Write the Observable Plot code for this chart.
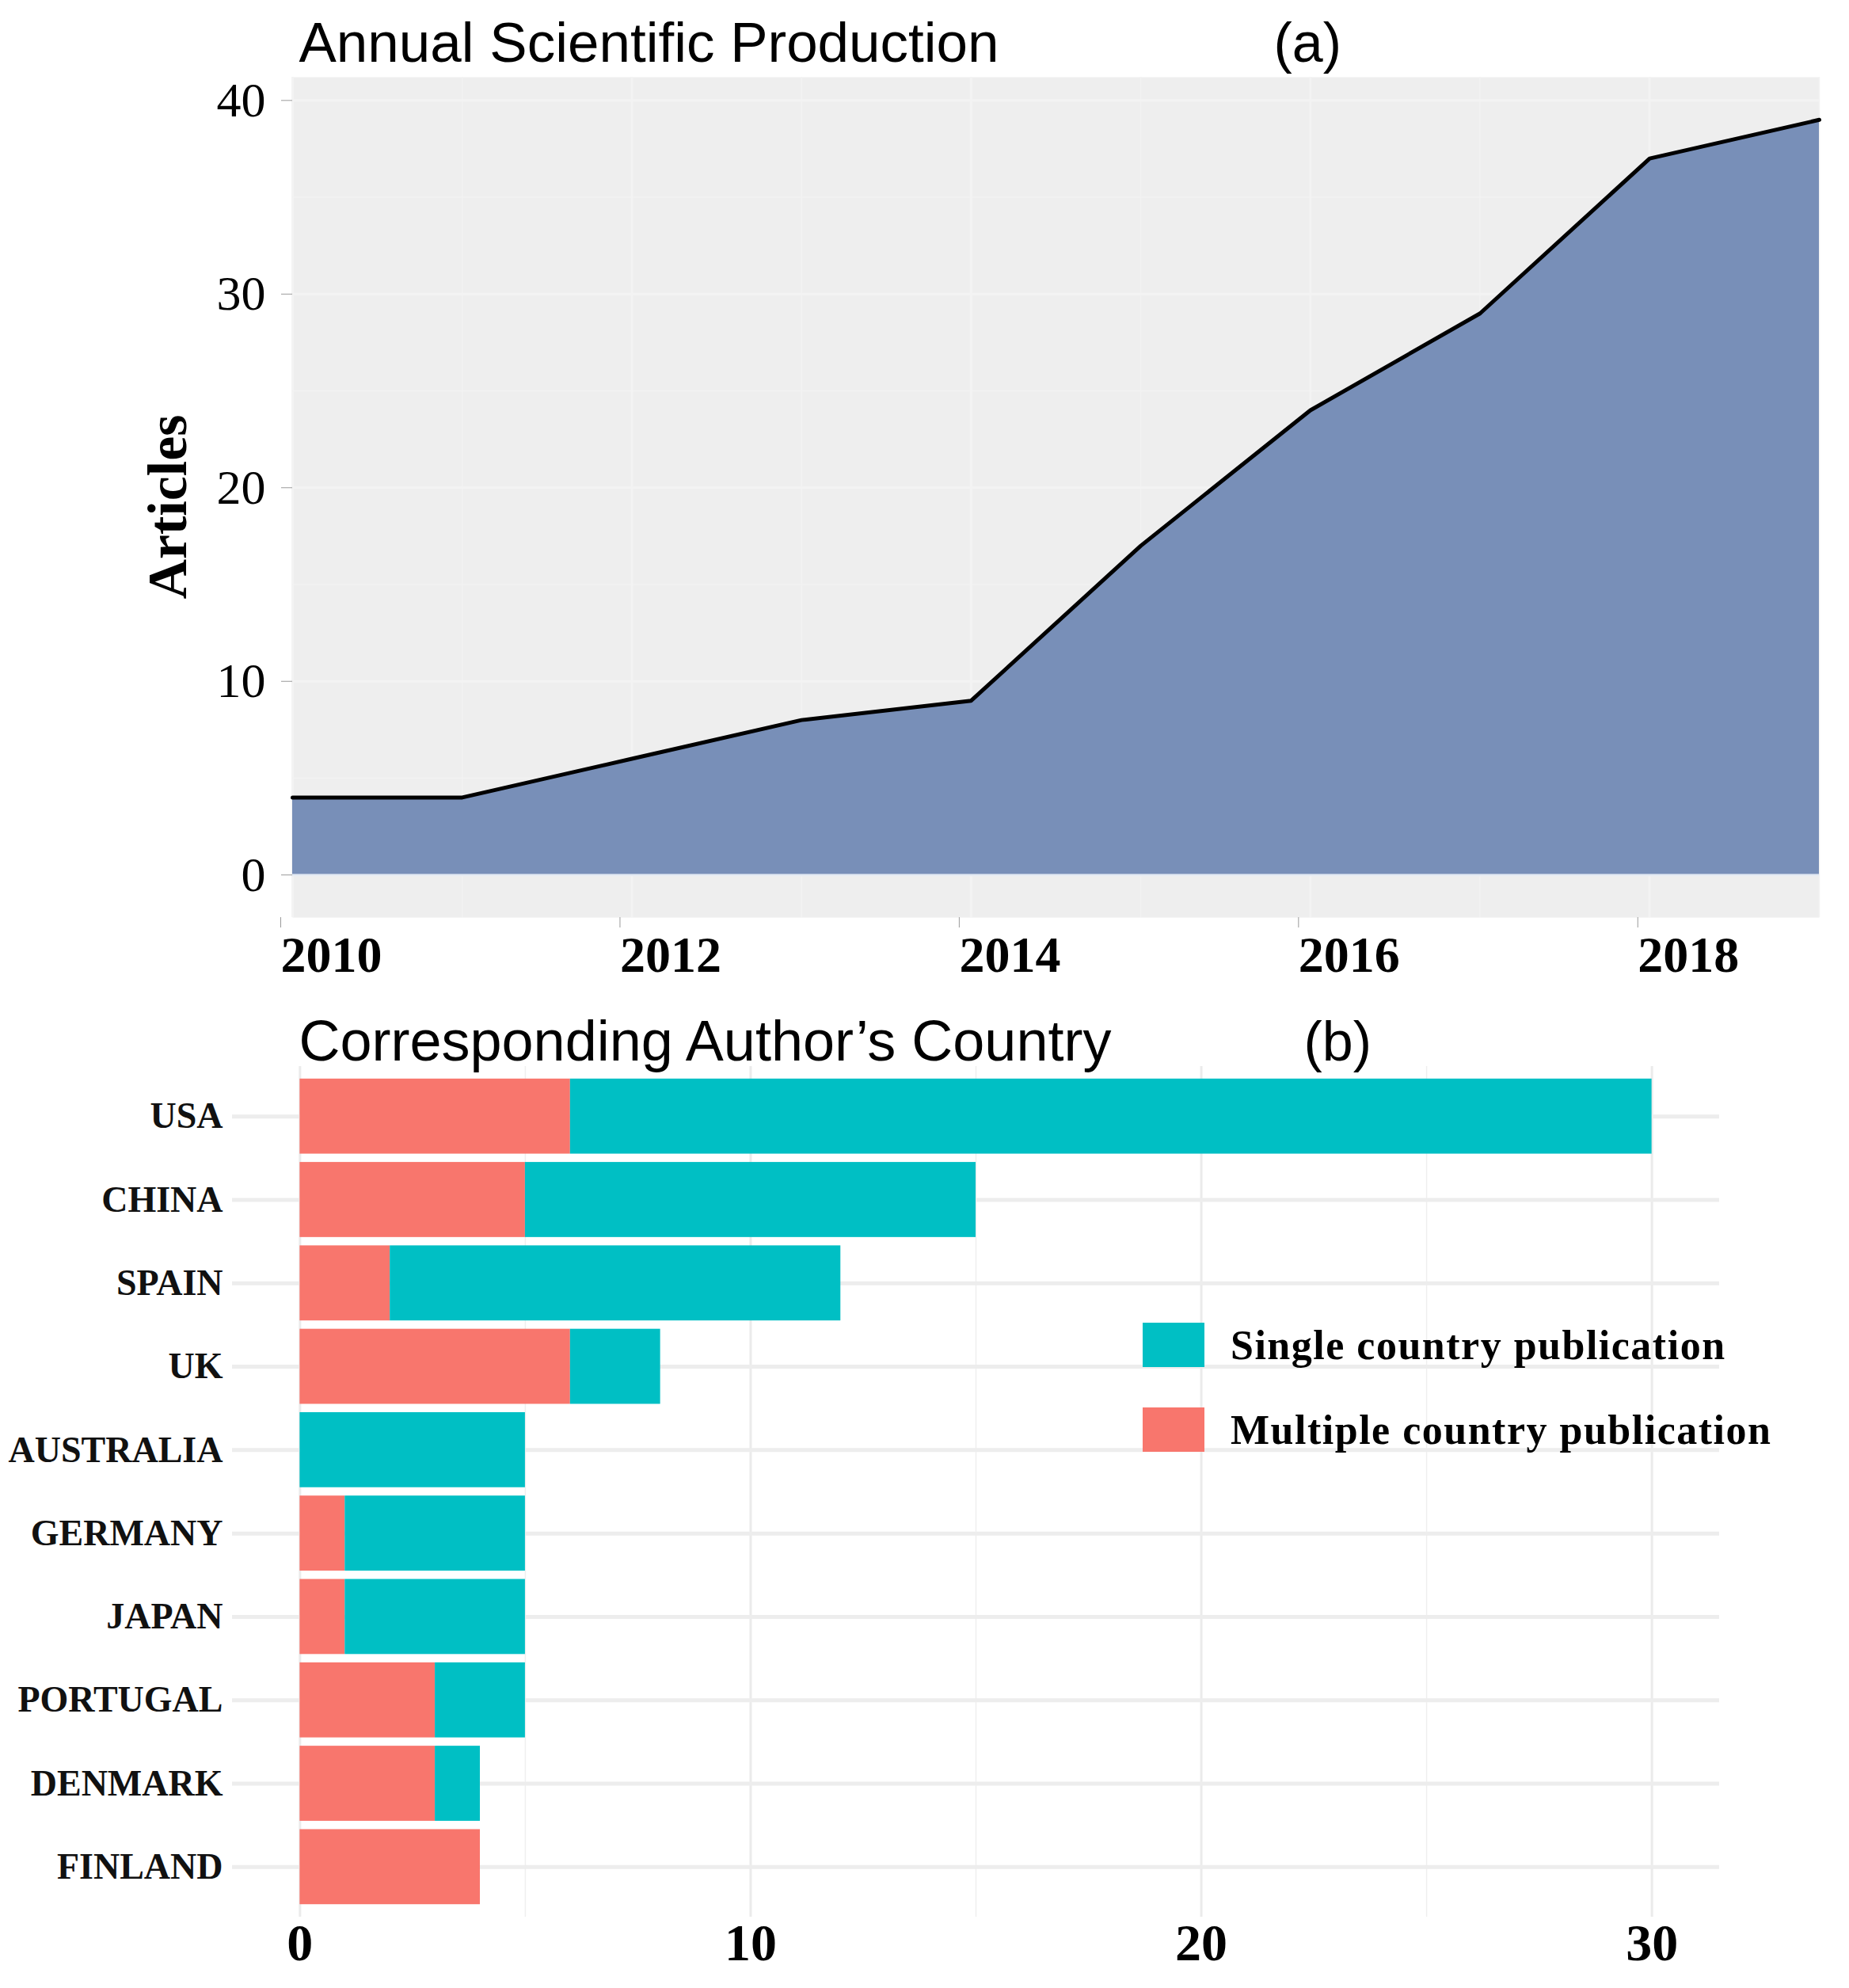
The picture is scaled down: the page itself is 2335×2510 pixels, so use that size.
<!DOCTYPE html>
<html>
<head>
<meta charset="utf-8">
<script src="https://cdn.jsdelivr.net/npm/d3@7"></script>
<script src="https://cdn.jsdelivr.net/npm/@observablehq/plot@0.6"></script>
<style>
  html, body { margin: 0; padding: 0; background: #ffffff; }
  #root { position: relative; width: 2335px; height: 2510px; background: #ffffff; overflow: hidden; }
  #top { position: absolute; left: 0; top: 0; }
  #bottom { position: absolute; left: 0; top: 1250px; }
  .legend { position: absolute; left: 1443px; font-family: "Liberation Serif", "Times New Roman", serif; font-weight: bold; font-size: 52px; letter-spacing: 1.5px; color: #000; }
  .legend .row { position: absolute; left: 0; display: flex; align-items: center; white-space: nowrap; height: 56px; }
  .legend .sw { width: 78px; height: 56px; margin-right: 33px; flex: none; }
</style>
</head>
<body>
<div id="root">
  <div id="top"></div>
  <div id="bottom"></div>
  <div class="legend" id="legend"></div>
</div>
<script>
// ---- Panel (a): Annual Scientific Production ----
const years = [2010, 2011, 2012, 2013, 2014, 2015, 2016, 2017, 2018, 2019];
const articles = [4, 4, 6, 8, 9, 17, 24, 29, 37, 39];
const yearTicks = [2010, 2012, 2014, 2016, 2018];
const yearMinor = [2011, 2013, 2015, 2017, 2019];
const articleTicks = [0, 10, 20, 30, 40];
const articleMinor = [5, 15, 25, 35];
const titleA = "Annual Scientific Production";
const tagA = "(a)";
const yLabelA = "Articles";

// ---- Panel (b): Corresponding Author's Country ----
const countries = ["USA", "CHINA", "SPAIN", "UK", "AUSTRALIA", "GERMANY", "JAPAN", "PORTUGAL", "DENMARK", "FINLAND"];
const multipleCountry = [6, 5, 2, 6, 0, 1, 1, 3, 3, 4];
const singleCountry = [24, 10, 10, 2, 5, 4, 4, 2, 1, 0];
const countTicks = [0, 10, 20, 30];
const countMinor = [5, 15, 25];
const seriesNames = ["Multiple country publication", "Single country publication"];
const seriesColors = ["#F8766D", "#00BFC4"];
const titleB = "Corresponding Author\u2019s Country";
const tagB = "(b)";

const production = years.map((y, i) => ({year: y, n: articles[i]}));
const countryRows = [];
countries.forEach((c, i) => {
  countryRows.push({country: c, type: seriesNames[0], value: multipleCountry[i]});
  countryRows.push({country: c, type: seriesNames[1], value: singleCountry[i]});
});

const serif = "'Liberation Serif', 'Times New Roman', serif";
const sans = "'Liberation Sans', Arial, sans-serif";

const plotA = Plot.plot({
  width: 2335,
  height: 1250,
  marginLeft: 369,
  marginRight: 38,
  marginTop: 97,
  marginBottom: 92,
  style: {fontFamily: serif, background: "white", color: "black", overflow: "visible"},
  x: {domain: [2010, 2019], label: null},
  y: {domain: [-2.2, 41.2], label: null},
  marks: [
    Plot.frame({fill: "#EEEEEE", stroke: null}),
    Plot.ruleX(yearMinor, {stroke: "#F2F2F2", strokeWidth: 1.5}),
    Plot.ruleY(articleMinor, {stroke: "#F2F2F2", strokeWidth: 1.5}),
    Plot.ruleX(yearTicks, {stroke: "#F3F3F3", strokeWidth: 3}),
    Plot.ruleY(articleTicks, {stroke: "#F3F3F3", strokeWidth: 3}),
    Plot.areaY(production, {x: "year", y: "n", fill: "#788FB8"}),
    Plot.ruleY([0], {stroke: "#E4EAF4", strokeWidth: 3, strokeOpacity: 0.8}),
    Plot.lineY(production, {x: "year", y: "n", stroke: "#000", strokeWidth: 5}),
    Plot.axisY({ticks: articleTicks, tickSize: 14, tickPadding: 20, fontSize: 62, stroke: "#9a9a9a", label: null, tickFormat: d => String(d)}),
    Plot.axisX({ticks: yearTicks, tickSize: 13, tickPadding: 10, fontSize: 64, fontWeight: "bold", textAnchor: "start", dx: -15, stroke: "#9a9a9a", label: null, tickFormat: d => String(d)}),
    Plot.text([yLabelA], {text: d => d, frameAnchor: "left", textAnchor: "middle", lineAnchor: "middle", rotate: -90, dx: -157, dy: 12, fontSize: 70, fontWeight: "bold", fontFamily: serif}),
    Plot.text([titleA], {text: d => d, frameAnchor: "top-left", textAnchor: "start", lineAnchor: "bottom", dx: 8, dy: -20, fontSize: 71, fontFamily: sans}),
    Plot.text([tagA], {text: d => d, frameAnchor: "top-left", textAnchor: "start", lineAnchor: "bottom", dx: 1239, dy: -20, fontSize: 70, fontFamily: sans})
  ]
});
document.getElementById("top").appendChild(plotA);

const plotB = Plot.plot({
  width: 2335,
  height: 1260,
  marginLeft: 293,
  marginRight: 164,
  marginTop: 96,
  marginBottom: 90,
  style: {fontFamily: serif, background: "transparent", color: "black", overflow: "visible"},
  x: {domain: [-1.5, 31.5], label: null},
  y: {domain: countries, paddingInner: 0.1, paddingOuter: 0.15, round: false, label: null},
  color: {domain: seriesNames, range: seriesColors},
  marks: [
    Plot.ruleX(countMinor, {stroke: "#EFEFEF", strokeWidth: 1.5}),
    Plot.ruleX(countTicks, {stroke: "#EBEBEB", strokeWidth: 3}),
    Plot.gridY({stroke: "#EDEDED", strokeOpacity: 1, strokeWidth: 5}),
    Plot.barX(countryRows, Plot.stackX({y: "country", x: "value", fill: "type", order: null})),
    Plot.axisY({tickSize: 0, tickPadding: 12, fontSize: 46, fontWeight: "bold", label: null, fill: "#111"}),
    Plot.axisX({ticks: countTicks, tickSize: 0, tickPadding: 8, fontSize: 66, fontWeight: "bold", label: null, tickFormat: d => String(d)}),
    Plot.text([titleB], {text: d => d, frameAnchor: "top-left", textAnchor: "start", lineAnchor: "bottom", dx: 84, dy: -8, fontSize: 72, fontFamily: sans}),
    Plot.text([tagB], {text: d => d, frameAnchor: "top-left", textAnchor: "start", lineAnchor: "bottom", dx: 1353, dy: -8, fontSize: 70, fontFamily: sans})
  ]
});
document.getElementById("bottom").appendChild(plotB);

// Legend (single first, then multiple, as in the reference)
const legend = document.getElementById("legend");
const legendOrder = [1, 0];
const legendTops = [1670, 1777];
legendOrder.forEach((k, j) => {
  const row = document.createElement("div");
  row.className = "row";
  row.style.top = legendTops[j] + "px";
  const sw = document.createElement("div");
  sw.className = "sw";
  sw.style.background = seriesColors[k];
  const lab = document.createElement("span");
  lab.textContent = seriesNames[k];
  row.appendChild(sw);
  row.appendChild(lab);
  legend.appendChild(row);
});
</script>
</body>
</html>
